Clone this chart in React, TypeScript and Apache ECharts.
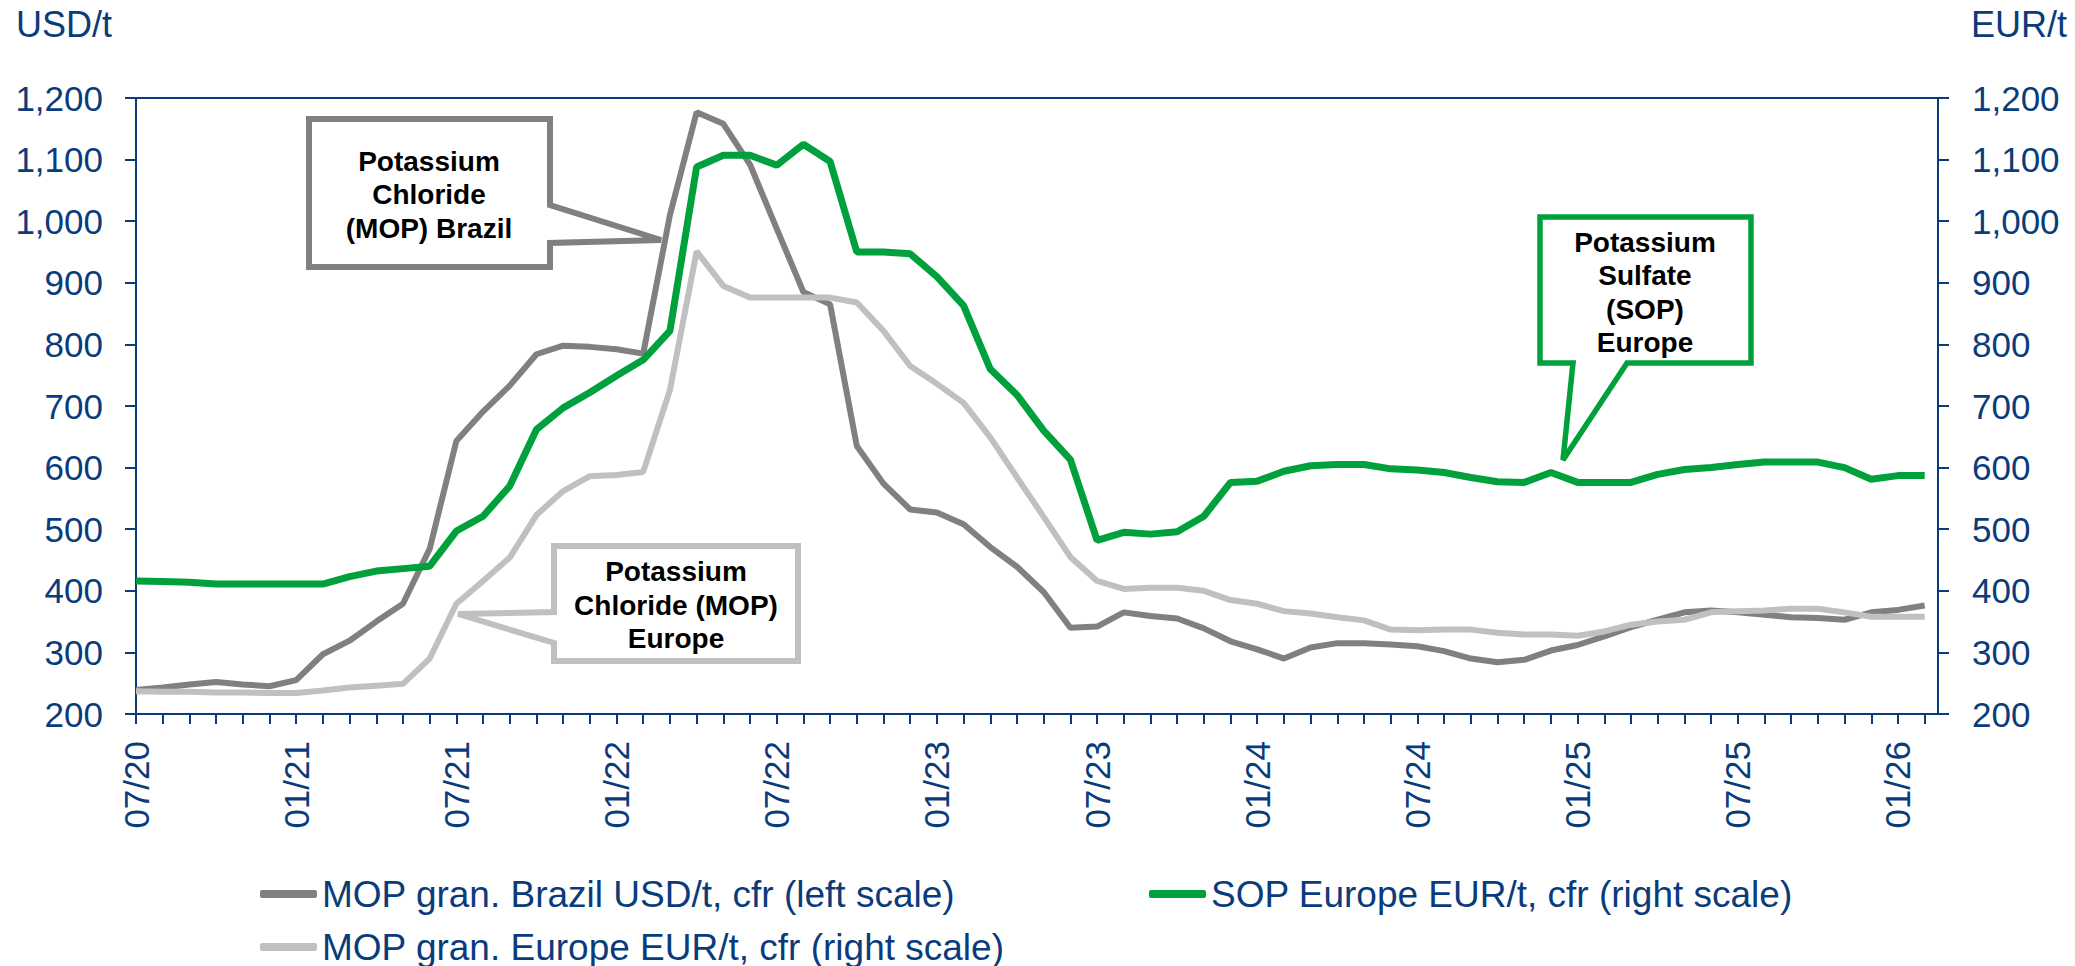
import React, { useEffect, useRef } from "react";
import * as echarts from "echarts";

// Monthly categories 07/20 .. 02/26
const months = [
  "07/20", "08/20", "09/20", "10/20", "11/20", "12/20",
  "01/21", "02/21", "03/21", "04/21", "05/21", "06/21", "07/21", "08/21", "09/21", "10/21", "11/21", "12/21",
  "01/22", "02/22", "03/22", "04/22", "05/22", "06/22", "07/22", "08/22", "09/22", "10/22", "11/22", "12/22",
  "01/23", "02/23", "03/23", "04/23", "05/23", "06/23", "07/23", "08/23", "09/23", "10/23", "11/23", "12/23",
  "01/24", "02/24", "03/24", "04/24", "05/24", "06/24", "07/24", "08/24", "09/24", "10/24", "11/24", "12/24",
  "01/25", "02/25", "03/25", "04/25", "05/25", "06/25", "07/25", "08/25", "09/25", "10/25", "11/25", "12/25",
  "01/26", "02/26",
];

// Label positions (every 6 months)
const labelMonths = ["07/20", "01/21", "07/21", "01/22", "07/22", "01/23", "07/23", "01/24", "07/24", "01/25", "07/25", "01/26"];

// MOP gran. Brazil USD/t, cfr (left scale)
const brazilMop = [
  239, 243, 248, 252, 248, 245, 255, 297, 319, 350, 379, 468,
  643, 691, 733, 784, 798, 796, 792, 785, 1010, 1177, 1158, 1092,
  988, 885, 865, 635, 574, 532, 527, 508, 471, 439, 398, 340,
  342, 365, 359, 355, 339, 318, 305, 290, 308, 315, 315, 313,
  310, 302, 290, 284, 288, 303, 312, 326, 341, 353, 365, 368,
  365, 361, 357, 356, 353, 365, 369, 376,
];

// MOP gran. Europe EUR/t, cfr (right scale)
const europeMop = [
  237, 236, 236, 235, 235, 234, 234, 238, 243, 246, 249, 290,
  379, 416, 454, 523, 562, 586, 588, 593, 726, 951, 895, 876,
  876, 876, 876, 868, 822, 765, 736, 705, 649, 584, 520, 455,
  416, 403, 405, 405, 400, 385, 379, 367, 363, 357, 352, 337,
  336, 337, 337, 332, 329, 329, 327, 334, 345, 350, 353, 365,
  367, 368, 371, 371, 365, 358, 358, 358,
];

// SOP Europe EUR/t, cfr (right scale)
const europeSop = [
  416, 415, 414, 411, 411, 411, 411, 411, 423, 432, 436, 440,
  497, 521, 570, 662, 697, 722, 749, 775, 822, 1088, 1107, 1107,
  1091, 1125, 1097, 950, 950, 947, 910, 863, 760, 718, 660, 613,
  482, 495, 492, 496, 521, 576, 578, 594, 603, 605, 605, 598,
  596, 592, 584, 577, 576, 592, 576, 576, 576, 589, 597, 600,
  605, 609, 609, 609, 600, 581, 587, 587,
];

const NAME_BRAZIL = "MOP gran. Brazil USD/t, cfr (left scale)";
const NAME_EUROPE = "MOP gran. Europe EUR/t, cfr (right scale)";
const NAME_SOP = "SOP Europe EUR/t, cfr (right scale)";

const BLUE = "#0A3C7C";
const DARK_GREY = "#808080";
const LIGHT_GREY = "#C0C0C0";
const GREEN = "#00A03C";
const FONT = "'Liberation Sans', Arial, Helvetica, sans-serif";

const fmt = (v: number) => v.toLocaleString("en-US");

export default function App() {
  const ref = useRef<HTMLDivElement>(null);

  useEffect(() => {
    if (!ref.current) return;
    const chart = echarts.init(ref.current, null, { renderer: "svg" });

    const tickIdx = months.map((_, i) => i);
    const labelIdx = labelMonths.map((m) => months.indexOf(m));
    const toPairs = (arr: number[]) => arr.map((v, i) => [i, v]);

    const yAxisCommon = {
      type: "value",
      min: 200,
      max: 1200,
      interval: 100,
      splitLine: { show: false },
      axisLine: { show: true, lineStyle: { color: BLUE, width: 2 } },
      axisTick: { show: true, inside: false, length: 11, lineStyle: { color: BLUE, width: 2 } },
      axisLabel: {
        color: BLUE,
        fontSize: 35,
        fontFamily: FONT,
        margin: 33,
        formatter: (v: number) => fmt(v),
      },
    };

    const boldText = (text: string, x: number, y: number) => ({
      type: "text",
      z: 101,
      style: {
        text,
        x,
        y,
        fill: "#000",
        fontSize: 28,
        fontWeight: "bold",
        fontFamily: FONT,
        align: "center",
        verticalAlign: "middle",
      },
    });

    const legendCommon = {
      orient: "horizontal",
      padding: 0,
      itemWidth: 57,
      itemHeight: 8,
      icon: "roundRect",
      selectedMode: false,
      textStyle: { color: BLUE, fontSize: 37, fontFamily: FONT, lineHeight: 42 },
    };

    chart.setOption({
      animation: false,
      backgroundColor: "#ffffff",
      grid: {
        left: 136,
        right: 137,
        top: 98,
        bottom: 252,
        show: true,
        borderColor: BLUE,
        borderWidth: 2,
        backgroundColor: "transparent",
      },
      xAxis: {
        type: "value",
        min: 0,
        max: 67.5,
        splitLine: { show: false },
        axisLine: { show: true, onZero: false, lineStyle: { color: BLUE, width: 2 } },
        axisTick: {
          show: true,
          inside: false,
          length: 10,
          customValues: tickIdx,
          lineStyle: { color: BLUE, width: 2 },
        },
        axisLabel: {
          customValues: labelIdx,
          rotate: 90,
          margin: 27,
          color: BLUE,
          fontSize: 35,
          fontFamily: FONT,
          formatter: (v: number) => months[Math.round(v)] ?? "",
        },
      },
      yAxis: [
        { ...yAxisCommon, position: "left" },
        { ...yAxisCommon, position: "right", axisLabel: { ...yAxisCommon.axisLabel, margin: 34 } },
      ],
      legend: [
        { ...legendCommon, data: [NAME_BRAZIL], left: 260, top: 873 },
        { ...legendCommon, data: [NAME_SOP], left: 1149, top: 873 },
        { ...legendCommon, data: [NAME_EUROPE], left: 260, top: 926 },
      ],
      series: [
        {
          name: NAME_BRAZIL,
          type: "line",
          yAxisIndex: 0,
          data: toPairs(brazilMop),
          showSymbol: false,
          symbol: "none",
          color: DARK_GREY,
          lineStyle: { color: DARK_GREY, width: 6 },
          z: 2,
        },
        {
          name: NAME_EUROPE,
          type: "line",
          yAxisIndex: 1,
          data: toPairs(europeMop),
          showSymbol: false,
          symbol: "none",
          color: LIGHT_GREY,
          lineStyle: { color: LIGHT_GREY, width: 6 },
          z: 3,
        },
        {
          name: NAME_SOP,
          type: "line",
          yAxisIndex: 1,
          data: toPairs(europeSop),
          showSymbol: false,
          symbol: "none",
          color: GREEN,
          lineStyle: { color: GREEN, width: 7 },
          z: 4,
        },
      ],
      graphic: [
        {
          type: "text",
          z: 101,
          style: { text: "USD/t", x: 16, y: 24, fill: BLUE, fontSize: 36, fontFamily: FONT, align: "left", verticalAlign: "middle" },
        },
        {
          type: "text",
          z: 101,
          style: { text: "EUR/t", x: 1971, y: 24, fill: BLUE, fontSize: 36, fontFamily: FONT, align: "left", verticalAlign: "middle" },
        },
        // Brazil MOP callout
        {
          type: "polygon",
          z: 100,
          shape: {
            points: [
              [309, 119], [550, 119], [550, 205], [661, 240], [550, 243], [550, 267], [309, 267],
            ],
          },
          style: { fill: "#ffffff", stroke: DARK_GREY, lineWidth: 6, lineJoin: "miter" },
        },
        boldText("Potassium", 429, 161),
        boldText("Chloride", 429, 194),
        boldText("(MOP) Brazil", 429, 228),
        // Europe MOP callout
        {
          type: "polygon",
          z: 100,
          shape: {
            points: [
              [554, 546], [798, 546], [798, 661], [554, 661], [554, 643], [458, 614], [554, 612],
            ],
          },
          style: { fill: "#ffffff", stroke: LIGHT_GREY, lineWidth: 6, lineJoin: "miter" },
        },
        boldText("Potassium", 676, 571),
        boldText("Chloride (MOP)", 676, 605),
        boldText("Europe", 676, 638),
        // SOP callout
        {
          type: "polygon",
          z: 100,
          shape: {
            points: [
              [1540, 217], [1751, 217], [1751, 363], [1627, 363], [1563, 460], [1573, 363], [1540, 363],
            ],
          },
          style: { fill: "#ffffff", stroke: GREEN, lineWidth: 5.5, lineJoin: "miter" },
        },
        boldText("Potassium", 1645, 242),
        boldText("Sulfate", 1645, 275),
        boldText("(SOP)", 1645, 309),
        boldText("Europe", 1645, 342),
      ],
    });

    return () => chart.dispose();
  }, []);

  return (
    <div
      ref={ref}
      style={{ position: "fixed", left: 0, top: 0, width: 2075, height: 966, background: "#ffffff" }}
    />
  );
}
